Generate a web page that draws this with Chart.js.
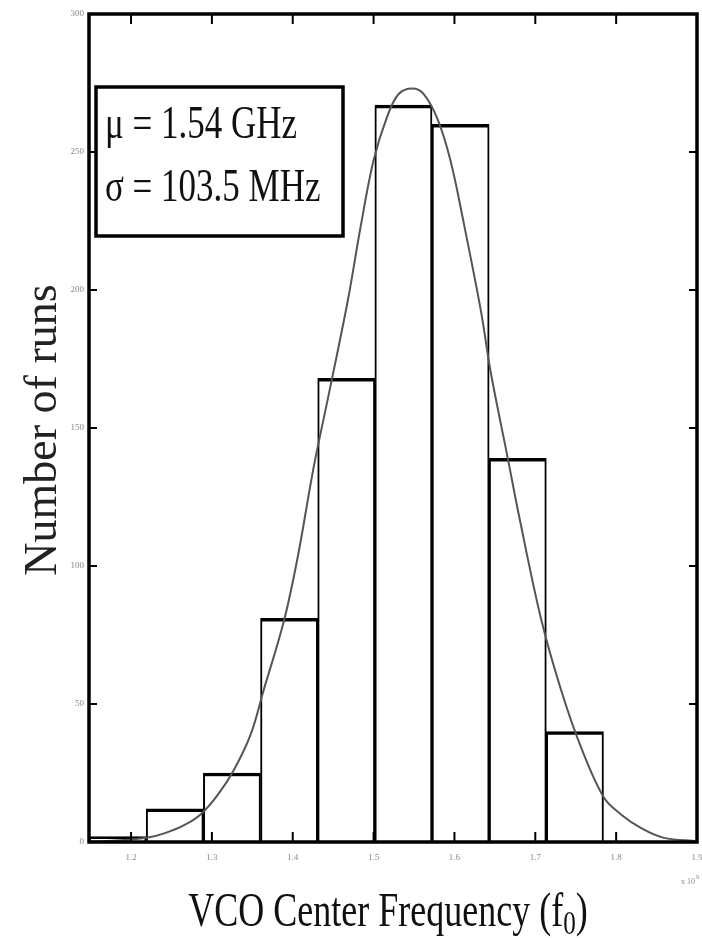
<!DOCTYPE html>
<html>
<head>
<meta charset="utf-8">
<script src="https://cdn.jsdelivr.net/npm/chart.js@4.4.0/dist/chart.umd.min.js"></script>
<style>
  html, body { margin: 0; padding: 0; background: #fff; }
  canvas { display: block; }
</style>
</head>
<body>
<canvas id="chart" width="702" height="938"></canvas>
<script>
// histogram: bin centres (GHz) and number of runs per bin
let binCenters = [1.1834, 1.2541, 1.3248, 1.3955, 1.4662, 1.5369, 1.6076, 1.6783, 1.7490];
let runCounts = [2, 12, 25, 81, 168, 267, 260, 139, 40];

// fitted normal curve
let fitFreq = [1.148, 1.187, 1.221, 1.242, 1.265, 1.286, 1.307, 1.327, 1.348, 1.364, 1.389, 1.406,
               1.426, 1.443, 1.468, 1.484, 1.500, 1.517, 1.531, 1.548, 1.562, 1.579, 1.595, 1.611,
               1.633, 1.645, 1.666, 1.680, 1.707, 1.732, 1.757, 1.785, 1.806, 1.831, 1.859, 1.900];
let fitCount = [0.2, 0.6, 1.6, 3.2, 6, 10, 17, 26, 39, 55, 80, 103,
                136, 160, 196, 223, 247, 263, 271, 273, 271, 262, 247, 225,
                192, 170, 139, 118, 81, 55, 34, 16, 10, 5, 1.5, 0.3];

let xTicks = [1.2, 1.3, 1.4, 1.5, 1.6, 1.7, 1.8, 1.9];
let yTicks = [0, 50, 100, 150, 200, 250, 300];

let statLines = ['\u03bc = 1.54 GHz', '\u03c3 = 103.5 MHz'];
let xTitle = 'VCO Center Frequency (f';
let yTitle = 'Number of runs';

const serif = '"Liberation Serif", "DejaVu Serif", serif';

function stretchedText(ctx, txt, x, y, size, sy) {
    ctx.save();
    ctx.translate(x, y);
    ctx.scale(1, sy);
    ctx.font = size + 'px ' + serif;
    ctx.fillText(txt, 0, 0);
    let w = ctx.measureText(txt).width;
    ctx.restore();
    return w;
}

// box, inward ticks, stats box and titles, in the old matlab look
const matlabFrame = {
    id: 'matlabFrame',
    afterDraw(chart) {
        let ctx = chart.ctx;
        let a = chart.chartArea;
        let xs = chart.scales.x, ys = chart.scales.y;

        ctx.save();
        ctx.strokeStyle = '#000';
        ctx.lineWidth = 2;
        ctx.beginPath();
        xTicks.forEach(v => {
            let px = xs.getPixelForValue(v);
            ctx.moveTo(px, a.bottom); ctx.lineTo(px, a.bottom - 10);
            ctx.moveTo(px, a.top); ctx.lineTo(px, a.top + 10);
        });
        yTicks.forEach(v => {
            let py = ys.getPixelForValue(v);
            ctx.moveTo(a.left, py); ctx.lineTo(a.left + 8, py);
            ctx.moveTo(a.right, py); ctx.lineTo(a.right - 8, py);
        });
        ctx.stroke();

        ctx.lineWidth = 3.5;
        ctx.strokeRect(a.left, a.top, a.right - a.left, a.bottom - a.top);

        // stats box
        let bx = a.left + 7, by = a.top + 73, bw = 247, bh = 149;
        ctx.fillStyle = '#fff';
        ctx.fillRect(bx, by, bw, bh);
        ctx.lineWidth = 3.5;
        ctx.strokeRect(bx, by, bw, bh);
        ctx.fillStyle = '#111';
        ctx.textAlign = 'left';
        ctx.textBaseline = 'alphabetic';
        stretchedText(ctx, statLines[0], bx + 9, by + 51, 35, 1.3);
        stretchedText(ctx, statLines[1], bx + 9, by + 114, 35, 1.3);

        // x title with subscript 0
        let size = 36, sy = 1.35;
        ctx.font = size + 'px ' + serif;
        let w1 = ctx.measureText(xTitle).width;
        ctx.font = (size * 0.7) + 'px ' + serif;
        let w2 = ctx.measureText('0').width;
        ctx.font = size + 'px ' + serif;
        let w3 = ctx.measureText(')').width;
        let x0 = 388 - (w1 + w2 + w3) / 2;
        let base = 926;
        stretchedText(ctx, xTitle, x0, base, size, sy);
        stretchedText(ctx, '0', x0 + w1, base + 8, size * 0.7, sy);
        stretchedText(ctx, ')', x0 + w1 + w2, base, size, sy);

        // y title
        ctx.save();
        ctx.translate(56, 430);
        ctx.rotate(-Math.PI / 2);
        ctx.textAlign = 'center';
        ctx.fillStyle = '#222';
        ctx.font = '46px ' + serif;
        ctx.fillText(yTitle, 0, 0);
        ctx.restore();

        // exponent of the x axis
        ctx.fillStyle = '#888';
        ctx.font = '8px ' + serif;
        ctx.fillText('x 10', 681, 884);
        ctx.font = '6px ' + serif;
        ctx.fillText('9', 696, 879);
        ctx.restore();
    }
};

let canvas = document.getElementById('chart');

new Chart(canvas, {
    type: 'bar',
    data: {
        datasets: [
            {
                type: 'line',
                label: 'Normal fit',
                data: fitFreq.map((f, i) => ({ x: f, y: fitCount[i] })),
                borderColor: '#555',
                borderWidth: 2,
                pointRadius: 0,
                tension: 0.35,
                fill: false,
                order: 0
            },
            {
                label: 'Runs',
                data: binCenters.map((f, i) => ({ x: f, y: runCounts[i] })),
                backgroundColor: '#fff',
                borderColor: '#000',
                borderWidth: { top: 3.5, left: 2, right: 2, bottom: 0 },
                borderSkipped: false,
                barPercentage: 1,
                categoryPercentage: 1,
                order: 1
            }
        ]
    },
    options: {
        responsive: false,
        animation: false,
        devicePixelRatio: 1,
        layout: { padding: { top: 14, right: 5, left: 0, bottom: 0 } },
        plugins: {
            legend: { display: false },
            tooltip: { enabled: false }
        },
        scales: {
            x: {
                type: 'linear',
                min: 1.148,
                max: 1.9,
                offset: false,
                grid: { display: false, drawTicks: false },
                border: { display: false },
                afterBuildTicks: s => { s.ticks = xTicks.map(v => ({ value: v })); },
                afterFit: s => { s.height = 96; s.paddingLeft = 0; s.paddingRight = 0; },
                ticks: {
                    color: '#888',
                    font: { family: serif, size: 9 },
                    padding: 10,
                    maxRotation: 0,
                    callback: v => v.toFixed(1)
                }
            },
            y: {
                min: 0,
                max: 300,
                grid: { display: false, drawTicks: false },
                border: { display: false },
                afterBuildTicks: s => { s.ticks = yTicks.map(v => ({ value: v })); },
                afterFit: s => { s.width = 89; s.paddingTop = 0; s.paddingBottom = 0; },
                ticks: {
                    color: '#888',
                    font: { family: serif, size: 9 },
                    padding: 5,
                    callback: v => v
                }
            }
        }
    },
    plugins: [matlabFrame]
});
</script>
</body>
</html>
